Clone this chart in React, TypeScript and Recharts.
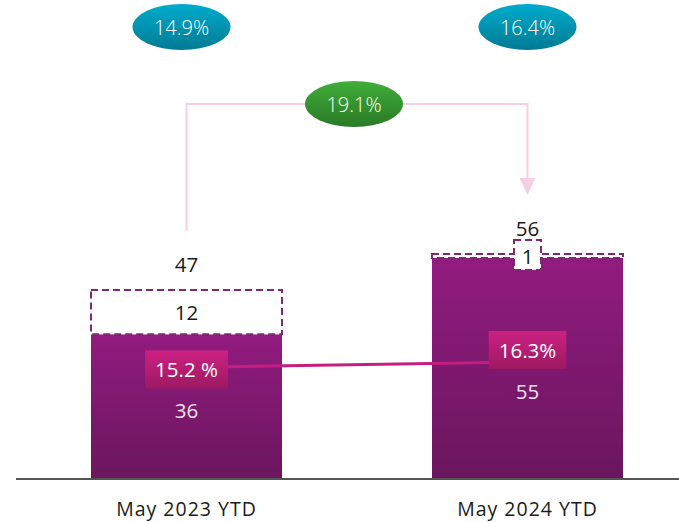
import { ComposedChart, Bar, Line, XAxis, YAxis } from 'recharts';

const categories = ['May 2023 YTD', 'May 2024 YTD'];
const actualValues = [36, 55];
const gapValues = [11, 1];
const actualLabels = ['36', '55'];
const gapLabels = ['12', '1'];
const totalLabels = ['47', '56'];
const shareValues = [15.2, 16.3];
const shareLabels = ['15.2 %', '16.3%'];
const growthLabels = ['14.9%', '16.4%'];
const changeLabel = '19.1%';

const data = categories.map((cat, i) => ({
    cat,
    actual: actualValues[i],
    gap: gapValues[i],
    share: shareValues[i],
}));

const W = 700;
const H = 522;
const MARGIN = { top: 77, right: 2, left: 16, bottom: 0 };
const PLOT_W = W - MARGIN.left - MARGIN.right;
const FONT = '"Open Sans", "Noto Sans", sans-serif';
const NUM_SIZE = 20.5;

// annotation layout
const ELLIPSE_Y = 27;
const BRACKET_Y = 104;
const ellipseShift = [-5, 0];
const shareBoxShift = [2, -12];

const DASH = { stroke: '#7d2a72', strokeWidth: 2, strokeDasharray: '7 4' };
const PINK = '#f8cde6';

// rough Open Sans advance widths (em)
const textWidth = (s: string, size: number) =>
    s.split('').reduce((w, c) => {
        if (c === '.') return w + 0.27 * size;
        if (c === ' ') return w + 0.26 * size;
        if (c === '%') return w + 0.82 * size;
        return w + 0.572 * size;
    }, 0);

const GapShape = (p: any) => (
    <rect x={p.x} y={p.y} width={p.width} height={p.height} fill="#fff" {...DASH} />
);

const GapLabel = (p: any) => {
    const vb = p.viewBox ?? p;
    const x = p.x ?? vb.x;
    const y = p.y ?? vb.y;
    const width = p.width ?? vb.width;
    const height = p.height ?? vb.height;
    const index = p.index;
    const cx = x + width / 2;
    const band = PLOT_W / categories.length;
    const totalY = y - 26;
    const lineEnd = totalY - 33;
    const small = height < 24;
    const ex = cx + ellipseShift[index];
    return (
        <g>
            {small ? (
                <rect x={cx - 13.5} y={y + height / 2 - 16} width={27} height={30} fill="#fff" {...DASH} />
            ) : null}
            <text x={cx} y={y + height / 2} textAnchor="middle" dominantBaseline="central" fontSize={NUM_SIZE} fill="#1a1a1a" fontFamily={FONT}>
                {gapLabels[index]}
            </text>
            <text x={cx} y={totalY} textAnchor="middle" dominantBaseline="central" fontSize={NUM_SIZE} fill="#1a1a1a" fontFamily={FONT}>
                {totalLabels[index]}
            </text>
            <ellipse cx={ex} cy={ELLIPSE_Y} rx={49} ry={23} fill="url(#tealGrad)" />
            <text x={ex} y={ELLIPSE_Y} textAnchor="middle" dominantBaseline="central" fontSize={20} fontWeight={300} fill="#fff" fontFamily={FONT}>
                {growthLabels[index]}
            </text>
            {index === 0 ? (
                <path d={`M${cx},${lineEnd} V${BRACKET_Y} H${cx + band / 2}`} fill="none" stroke={PINK} strokeWidth={2} />
            ) : (
                <g>
                    <path d={`M${cx - band / 2},${BRACKET_Y} H${cx} V${lineEnd - 16}`} fill="none" stroke={PINK} strokeWidth={2} />
                    <polygon points={`${cx - 8},${lineEnd - 17} ${cx + 8},${lineEnd - 17} ${cx},${lineEnd}`} fill={PINK} />
                    <ellipse cx={cx - band / 2 - 3} cy={BRACKET_Y} rx={49} ry={23} fill="url(#greenGrad)" />
                    <text x={cx - band / 2 - 3} y={BRACKET_Y} textAnchor="middle" dominantBaseline="central" fontSize={20} fontWeight={300} fill="#fff" fontFamily={FONT}>
                        {changeLabel}
                    </text>
                </g>
            )}
        </g>
    );
};

const ShareDot = (p: any) => {
    const { cx, cy, index } = p;
    const label = shareLabels[index];
    const w = textWidth(label, NUM_SIZE) + 20;
    const by = cy + shareBoxShift[index];
    return (
        <g key={`share-${index}`}>
            <rect x={cx - w / 2} y={by - 19} width={w} height={38} fill="url(#pinkGrad)" />
            <text x={cx} y={by} textAnchor="middle" dominantBaseline="central" fontSize={NUM_SIZE} fill="#fff" fontFamily={FONT}>
                {label}
            </text>
            <text x={cx} y={by + 41} textAnchor="middle" dominantBaseline="central" fontSize={NUM_SIZE} fill="#f3e4f0" fontFamily={FONT}>
                {actualLabels[index]}
            </text>
        </g>
    );
};

const CategoryTick = ({ x, y, payload }: any) => (
    <text x={x} y={y + 37} textAnchor="middle" fontSize={19.5} letterSpacing={1} fill="#1a1a1a" fontFamily={FONT}>
        {payload.value}
    </text>
);

export default function App() {
    return (
        <div style={{ position: 'absolute', left: 0, top: 0, width: 679, height: 522, overflow: 'hidden', background: '#fff' }}>
            <ComposedChart width={W} height={H} data={data} margin={MARGIN}>
                <defs>
                    <linearGradient id="barGrad" x1="0" y1="0" x2="0" y2="1">
                        <stop offset="0%" stopColor="#921b7f" />
                        <stop offset="100%" stopColor="#6a165e" />
                    </linearGradient>
                    <linearGradient id="tealGrad" x1="0" y1="0" x2="0" y2="1">
                        <stop offset="0%" stopColor="#00abcd" />
                        <stop offset="100%" stopColor="#007b94" />
                    </linearGradient>
                    <linearGradient id="greenGrad" x1="0" y1="0" x2="0" y2="1">
                        <stop offset="0%" stopColor="#40ad3a" />
                        <stop offset="100%" stopColor="#2a7a25" />
                    </linearGradient>
                    <linearGradient id="pinkGrad" x1="0" y1="0" x2="0" y2="1">
                        <stop offset="0%" stopColor="#cc2182" />
                        <stop offset="100%" stopColor="#9e1961" />
                    </linearGradient>
                </defs>
                <XAxis
                    dataKey="cat"
                    height={43}
                    axisLine={{ stroke: '#555', strokeWidth: 2 }}
                    tickLine={false}
                    tickSize={0}
                    tickMargin={0}
                    tick={<CategoryTick />}
                    interval={0}
                />
                <YAxis yAxisId="left" hide domain={[0, 100]} />
                <YAxis yAxisId="pct" hide domain={[-7, 73]} orientation="right" />
                <Bar yAxisId="left" dataKey="actual" stackId="a" barSize={191} fill="url(#barGrad)" isAnimationActive={false} />
                <Bar
                    yAxisId="left"
                    dataKey="gap"
                    stackId="a"
                    barSize={191}
                    shape={<GapShape />}
                    label={(p: any) => <GapLabel key={`gap-${p.index}`} {...p} />}
                    isAnimationActive={false}
                />
                <Line
                    yAxisId="pct"
                    dataKey="share"
                    stroke="#c41f7e"
                    strokeWidth={3}
                    dot={(p: any) => <ShareDot key={`dot-${p.index}`} {...p} />}
                    activeDot={false}
                    isAnimationActive={false}
                />
            </ComposedChart>
        </div>
    );
}
